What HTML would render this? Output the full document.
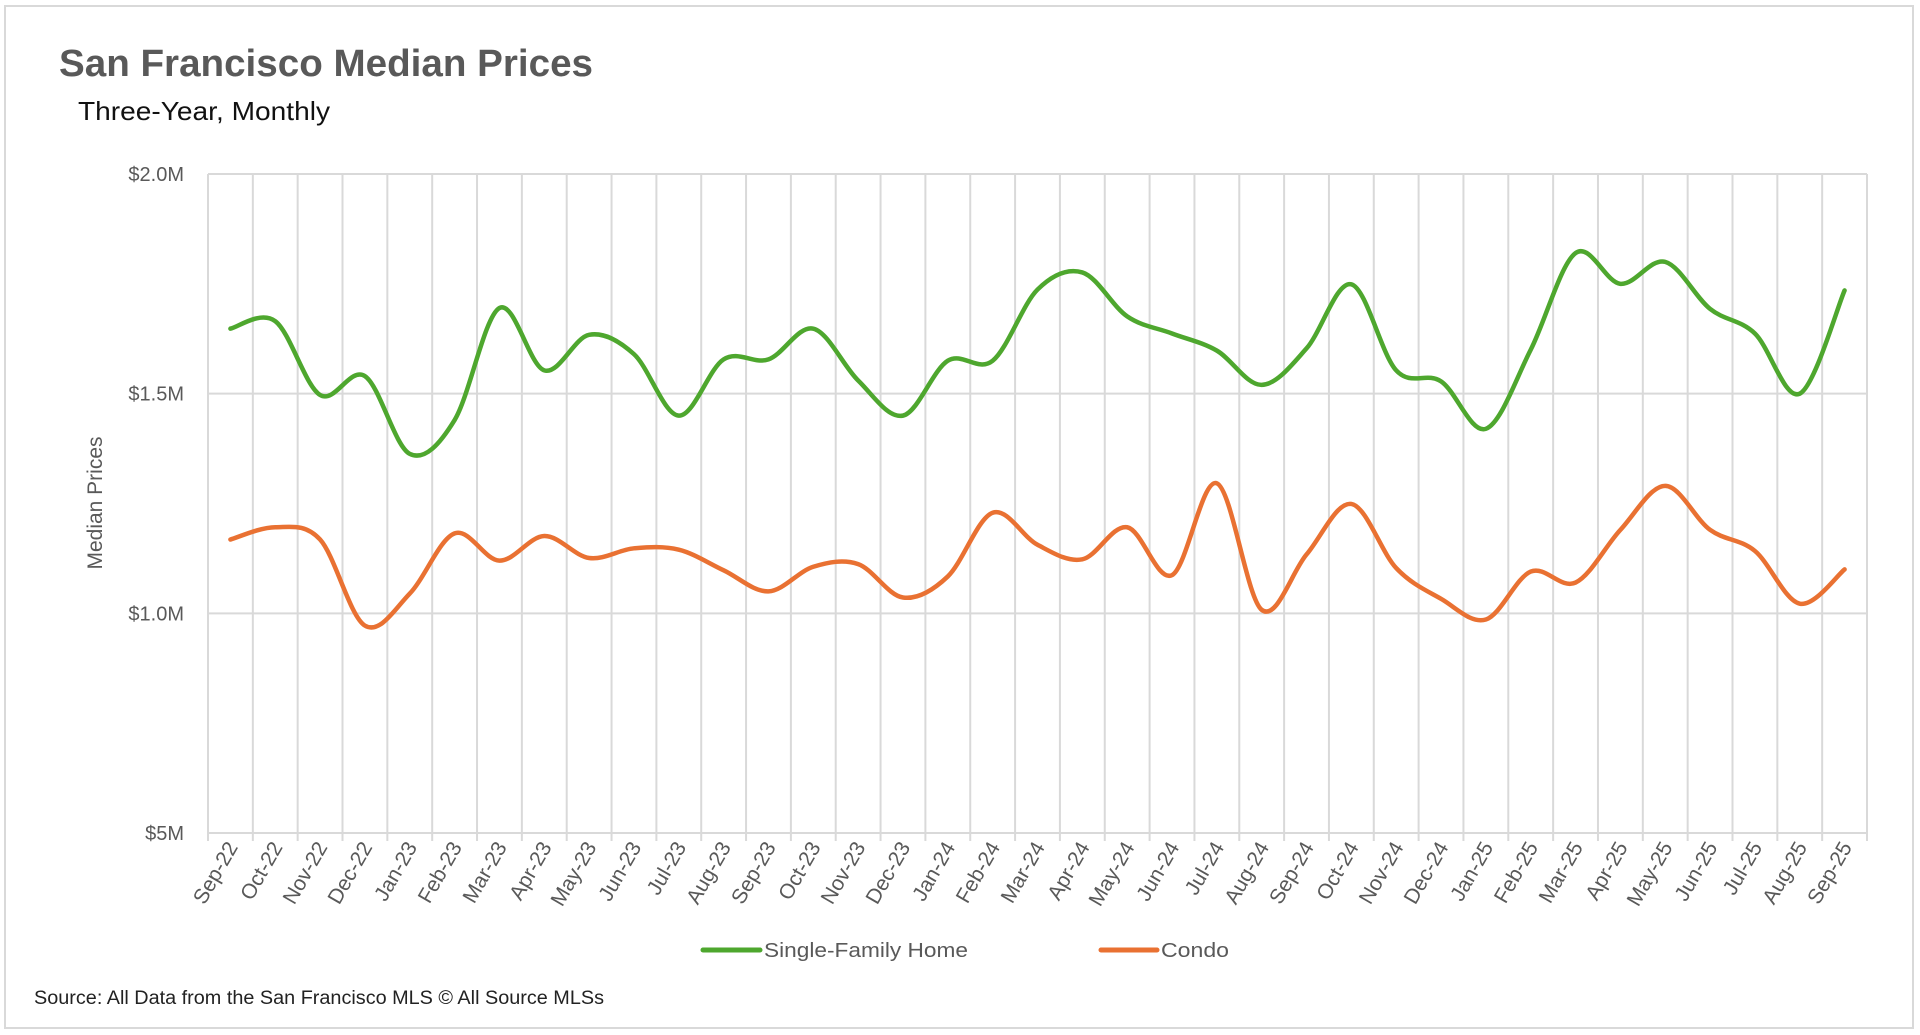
<!DOCTYPE html>
<html><head><meta charset="utf-8"><style>
html,body{margin:0;padding:0;background:#fff;}
svg{display:block;}
</style></head><body>
<svg id="chart" width="1920" height="1035" viewBox="0 0 1920 1035" xmlns="http://www.w3.org/2000/svg">
<rect x="5" y="6" width="1908" height="1022" fill="#fff" stroke="#d9d9d9" stroke-width="2"/>
<text x="59" y="76" font-family="Liberation Sans, sans-serif" font-weight="bold" font-size="38" fill="#595959" textLength="534" lengthAdjust="spacingAndGlyphs">San Francisco Median Prices</text>
<text x="78" y="120" font-family="Liberation Sans, sans-serif" font-size="26" fill="#111" textLength="252" lengthAdjust="spacingAndGlyphs">Three-Year, Monthly</text>
<g id="grid"></g>
<g id="yticks"></g>
<g id="xticks"></g>
<g id="series"></g>
<text x="0" y="0" transform="translate(102,503) rotate(-90)" text-anchor="middle" font-family="Liberation Sans, sans-serif" font-size="21" fill="#595959">Median Prices</text>
<g>
<line x1="703" y1="950" x2="760" y2="950" stroke="#4ea72e" stroke-width="5" stroke-linecap="round"/>
<text x="764" y="957" font-family="Liberation Sans, sans-serif" font-size="20" fill="#595959" textLength="204" lengthAdjust="spacingAndGlyphs">Single-Family Home</text>
</g>
<g>
<line x1="1101" y1="950" x2="1157" y2="950" stroke="#e97132" stroke-width="5" stroke-linecap="round"/>
<text x="1161" y="957" font-family="Liberation Sans, sans-serif" font-size="20" fill="#595959" textLength="68" lengthAdjust="spacingAndGlyphs">Condo</text>
</g>
<text x="34" y="1004" font-family="Liberation Sans, sans-serif" font-size="19" fill="#222" textLength="570" lengthAdjust="spacingAndGlyphs">Source: All Data from the San Francisco MLS © All Source MLSs</text>
</svg>
<script>
const categories=["Sep-22","Oct-22","Nov-22","Dec-22","Jan-23","Feb-23","Mar-23","Apr-23","May-23","Jun-23","Jul-23","Aug-23","Sep-23","Oct-23","Nov-23","Dec-23","Jan-24","Feb-24","Mar-24","Apr-24","May-24","Jun-24","Jul-24","Aug-24","Sep-24","Oct-24","Nov-24","Dec-24","Jan-25","Feb-25","Mar-25","Apr-25","May-25","Jun-25","Jul-25","Aug-25","Sep-25"];
const singleFamily=[1.648,1.665,1.497,1.54,1.363,1.44,1.695,1.553,1.634,1.59,1.45,1.578,1.578,1.648,1.53,1.45,1.575,1.575,1.737,1.776,1.676,1.637,1.598,1.52,1.603,1.749,1.553,1.528,1.42,1.60,1.82,1.75,1.80,1.693,1.637,1.50,1.735];
const condo=[1.168,1.196,1.168,0.972,1.045,1.182,1.12,1.176,1.126,1.148,1.145,1.098,1.05,1.106,1.112,1.036,1.084,1.229,1.156,1.123,1.196,1.087,1.296,1.008,1.134,1.249,1.103,1.033,0.986,1.095,1.07,1.19,1.29,1.19,1.142,1.022,1.10];
const yTickValues=[2.0,1.5,1.0,0.5];
const yTickLabels=["$2.0M","$1.5M","$1.0M","$5M"];
const NS="http://www.w3.org/2000/svg";
const L=208,R=1867,T=174,B=833,yMin=0.5,yMax=2.0;
const bw=(R-L)/categories.length;
function xScale(i){return L+bw*(i+0.5);}
function yScale(v){return B-(v-yMin)/(yMax-yMin)*(B-T);}
function mk(tag,attrs,parent){const e=document.createElementNS(NS,tag);for(const k in attrs)e.setAttribute(k,attrs[k]);parent.appendChild(e);return e;}
const grid=document.getElementById('grid');
yTickValues.forEach((v,i)=>{
  const ln=mk('line',{x1:L,x2:R,y1:yScale(v),y2:yScale(v),stroke:'#d9d9d9','stroke-width':2},grid);
  
  
  const t=mk('text',{x:184,y:yScale(v)+7,'text-anchor':'end','font-family':'Liberation Sans, sans-serif','font-size':20,fill:'#595959'},document.getElementById('yticks'));
  t.textContent=yTickLabels[i];
  
  
});
for(let i=0;i<=categories.length;i++){
  const x=L+bw*i;
  const ln=mk('line',{x1:x,x2:x,y1:T,y2:B+8,stroke:'#d9d9d9','stroke-width':2},grid);
  
  
}
categories.forEach((c,i)=>{
  const x=xScale(i)+8,y=B+14;
  const t=mk('text',{x:0,y:0,transform:`translate(${x},${y}) rotate(-60)`,'text-anchor':'end','font-family':'Liberation Sans, sans-serif','font-size':21,fill:'#595959'},document.getElementById('xticks'));
  t.textContent=c;
  
  
});
function smoothPath(vals){
  const p=vals.map((v,i)=>[xScale(i),yScale(v)]);
  let d=`M${p[0][0]},${p[0][1]}`;
  for(let i=0;i<p.length-1;i++){
    const p0=p[i-1]||p[i],p1=p[i],p2=p[i+1],p3=p[i+2]||p2;
    const c1=[p1[0]+(p2[0]-p0[0])/6,p1[1]+(p2[1]-p0[1])/6];
    const c2=[p2[0]-(p3[0]-p1[0])/6,p2[1]-(p3[1]-p1[1])/6];
    d+=` C${c1[0]},${c1[1]} ${c2[0]},${c2[1]} ${p2[0]},${p2[1]}`;
  }
  return d;
}
const s=document.getElementById('series');
const g1=mk('path',{d:smoothPath(singleFamily),fill:'none',stroke:'#4ea72e','stroke-width':4.5,'stroke-linecap':'round','stroke-linejoin':'round'},s);


const g2=mk('path',{d:smoothPath(condo),fill:'none',stroke:'#e97132','stroke-width':4.5,'stroke-linecap':'round','stroke-linejoin':'round'},s);


</script>
</body></html>
